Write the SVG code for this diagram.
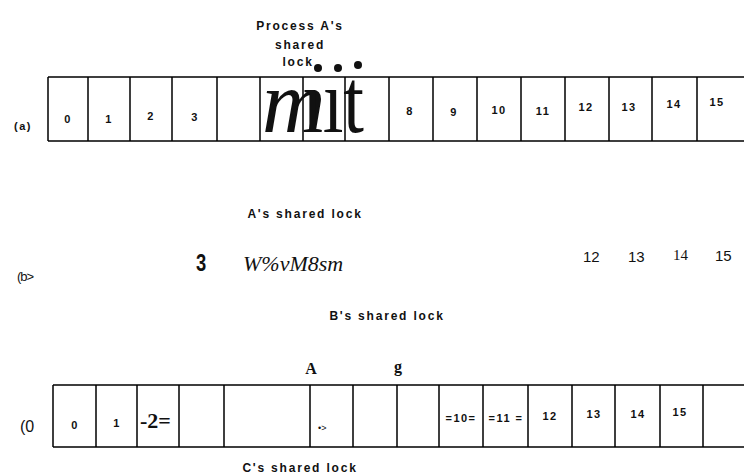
<svg xmlns="http://www.w3.org/2000/svg" width="744" height="476" viewBox="0 0 744 476">
<style>
.ln{stroke:#000;stroke-width:1.5;fill:none}
.lb{font-family:"Liberation Sans",Arial,sans-serif;font-weight:bold;font-size:12px;letter-spacing:1.8px;fill:#111;text-anchor:middle}
.d{font-family:"Liberation Sans",Arial,sans-serif;font-weight:bold;font-size:11px;letter-spacing:1.5px;fill:#111;text-anchor:middle}
.s{font-family:"Liberation Serif","Times New Roman",serif;fill:#111}
.r{font-family:"Liberation Sans",Arial,sans-serif;fill:#111}
</style>
<rect width="744" height="476" fill="#fff"/>
<g id="row-a">
<path class="ln" d="M48,77H744M48,141H744M48,77V141M88,77V141M130,77V141M172,77V141M217,77V141M260,77V141M303,77V141M345,77V141M389,77V141M433,77V141M477,77V141M521,77V141M565,77V141M609,77V141M652,77V141M697,77V141"/>
<text class="d" x="23" y="130">(a)</text>
<text class="d" x="68" y="123">0</text>
<text class="d" x="109" y="123">1</text>
<text class="d" x="151" y="120">2</text>
<text class="d" x="195" y="121">3</text>
<text class="d" x="410" y="115">8</text>
<text class="d" x="454" y="116">9</text>
<text class="d" x="499" y="114">10</text>
<text class="d" x="543" y="115">11</text>
<text class="d" x="586" y="111">12</text>
<text class="d" x="629" y="111">13</text>
<text class="d" x="674" y="108">14</text>
<text class="d" x="717" y="106">15</text>
<text class="s" x="262" y="132" font-size="88" font-style="italic">m</text>
<text class="s" x="302" y="132" font-size="80" textLength="62" lengthAdjust="spacingAndGlyphs" transform="translate(0 132) scale(1 1.15) translate(0 -132)">ııt</text>
<circle cx="318" cy="68" r="4" fill="#111"/>
<circle cx="338" cy="68" r="4" fill="#111"/>
<circle cx="358" cy="65" r="4" fill="#111"/>
</g>
<g id="label-a">
<text class="lb" x="300" y="30">Process A's</text>
<text class="lb" x="300" y="49">shared</text>
<text class="lb" x="298" y="66">lock</text>
</g>
<g id="row-b">
<text class="lb" x="305" y="218">A's shared lock</text>
<text class="r" x="17" y="281" font-size="13" letter-spacing="-1">(b&gt;</text>
<text class="r" x="196" y="271" font-size="23" font-weight="bold" transform="translate(196 0) scale(0.8 1) translate(-196 0)">3</text>
<text class="s" x="243" y="271" font-size="22" font-style="italic">W%vM8sm</text>
<text class="r" x="583" y="262" font-size="15">12</text>
<text class="r" x="628" y="262" font-size="15">13</text>
<text class="s" x="673" y="260" font-size="15">14</text>
<text class="r" x="715" y="261" font-size="15">15</text>
<text class="lb" x="387" y="320">B's shared lock</text>
</g>
<g id="row-c">
<path class="ln" d="M53,385H744M53,447H744M53,385V447M96,385V447M137,385V447M179,385V447M224,385V447M310,385V447M353,385V447M397,385V447M439,385V447M483,385V447M528,385V447M572,385V447M615,385V447M660,385V447M703,385V447"/>
<text class="r" x="20" y="432" font-size="16">(0</text>
<text class="d" x="75" y="429">0</text>
<text class="d" x="117" y="427">1</text>
<text class="s" x="140" y="428" font-size="22" font-weight="bold">-2=</text>
<text class="r" x="318" y="431" font-size="9" fill="#888">•&gt;</text>
<text class="d" x="461" y="422">=10=</text>
<text class="d" x="506" y="422">=11 =</text>
<text class="d" x="550" y="420">12</text>
<text class="d" x="594" y="418">13</text>
<text class="d" x="638" y="418">14</text>
<text class="d" x="680" y="416">15</text>
<text class="s" x="311" y="374" font-size="16" font-weight="bold" text-anchor="middle">A</text>
<text class="s" x="398" y="372" font-size="16" font-weight="bold" text-anchor="middle">g</text>
<text class="lb" x="300" y="472">C's shared lock</text>
</g>
</svg>
